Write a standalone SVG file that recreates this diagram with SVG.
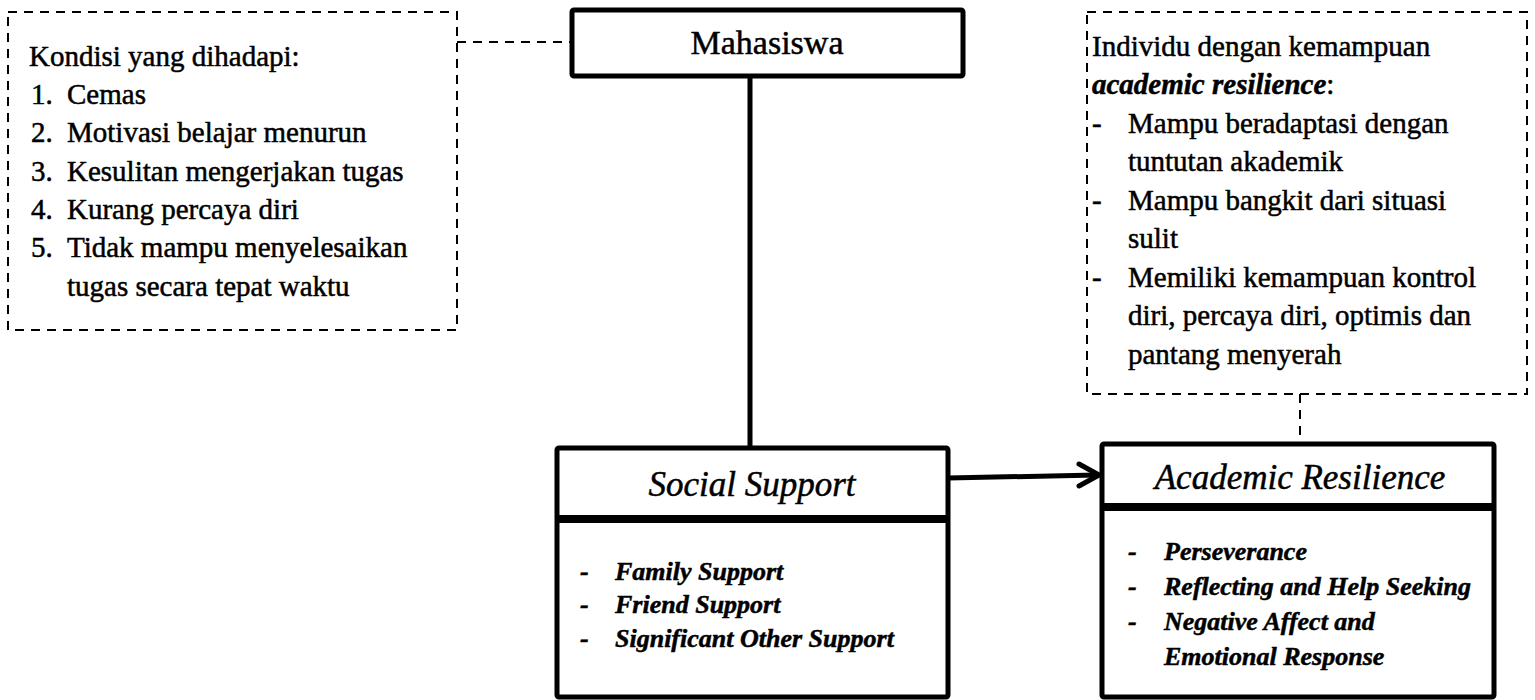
<svg xmlns="http://www.w3.org/2000/svg" width="1535" height="700" viewBox="0 0 1535 700">
<style>
.dash{fill:none;stroke:#000;stroke-width:2;stroke-dasharray:9 7}
.box{fill:#fff;stroke:#000;stroke-width:5;stroke-linejoin:round}
text{stroke:#000;stroke-width:0.5}
.t{font-family:"Liberation Serif","Times New Roman",serif;font-size:29px;fill:#000}
.bi{font-family:"Liberation Serif","Times New Roman",serif;font-size:26px;font-weight:bold;font-style:italic;fill:#000}
.hd{font-family:"Liberation Serif","Times New Roman",serif;font-size:35px;font-style:italic;fill:#000;text-anchor:middle}
</style>
<rect width="1535" height="700" fill="#fff"/>
<g id="connectors">
<line class="dash" x1="457" y1="42" x2="572" y2="42"/>
<line class="dash" x1="1300" y1="394" x2="1300" y2="444"/>
<line x1="750" y1="76" x2="750" y2="448" stroke="#000" stroke-width="5"/>
<line x1="948" y1="478" x2="1097" y2="475" stroke="#000" stroke-width="5"/>
<polyline points="1079,464 1099,475 1079,486" fill="none" stroke="#000" stroke-width="5" stroke-linecap="round" stroke-linejoin="round"/>
</g>
<g id="kondisi">
<rect class="dash" x="8" y="12" width="449" height="318"/>
<text class="t" x="29" y="66">Kondisi yang dihadapi:</text>
<text class="t" x="31" y="104">1.</text><text class="t" x="67" y="104">Cemas</text>
<text class="t" x="31" y="142">2.</text><text class="t" x="67" y="142">Motivasi belajar menurun</text>
<text class="t" x="31" y="181">3.</text><text class="t" x="67" y="181">Kesulitan mengerjakan tugas</text>
<text class="t" x="31" y="219">4.</text><text class="t" x="67" y="219">Kurang percaya diri</text>
<text class="t" x="31" y="257">5.</text><text class="t" x="67" y="257">Tidak mampu menyelesaikan</text>
<text class="t" x="67" y="296">tugas secara tepat waktu</text>
</g>
<g id="mahasiswa">
<rect class="box" x="572" y="10" width="391" height="66" rx="2"/>
<text x="767" y="54" font-family="Liberation Serif, Times New Roman, serif" font-size="34" text-anchor="middle">Mahasiswa</text>
</g>
<g id="individu">
<rect class="dash" x="1087" y="12" width="440" height="382"/>
<text class="t" x="1092" y="56">Individu dengan kemampuan</text>
<text class="t" x="1092" y="94"><tspan font-weight="bold" font-style="italic">academic resilience</tspan>:</text>
<text class="t" x="1092" y="133">-</text><text class="t" x="1128" y="133">Mampu beradaptasi dengan</text>
<text class="t" x="1128" y="171">tuntutan akademik</text>
<text class="t" x="1092" y="210">-</text><text class="t" x="1128" y="210">Mampu bangkit dari situasi</text>
<text class="t" x="1128" y="248">sulit</text>
<text class="t" x="1092" y="287">-</text><text class="t" x="1128" y="287">Memiliki kemampuan kontrol</text>
<text class="t" x="1128" y="325">diri, percaya diri, optimis dan</text>
<text class="t" x="1128" y="364">pantang menyerah</text>
</g>
<g id="social-support">
<rect class="box" x="557" y="448" width="391" height="249" rx="2"/>
<line x1="555" y1="519" x2="950" y2="519" stroke="#000" stroke-width="8"/>
<text class="hd" x="752" y="496">Social Support</text>
<text class="bi" x="580" y="580">-</text><text class="bi" x="615" y="580">Family Support</text>
<text class="bi" x="580" y="613">-</text><text class="bi" x="615" y="613">Friend Support</text>
<text class="bi" x="580" y="647">-</text><text class="bi" x="615" y="647">Significant Other Support</text>
</g>
<g id="academic-resilience">
<rect class="box" x="1102" y="444" width="392" height="253" rx="2"/>
<line x1="1100" y1="507" x2="1496" y2="507" stroke="#000" stroke-width="8"/>
<text class="hd" x="1300" y="489">Academic Resilience</text>
<text class="bi" x="1128" y="560">-</text><text class="bi" x="1164" y="560">Perseverance</text>
<text class="bi" x="1128" y="595">-</text><text class="bi" x="1164" y="595">Reflecting and Help Seeking</text>
<text class="bi" x="1128" y="630">-</text><text class="bi" x="1164" y="630">Negative Affect and</text>
<text class="bi" x="1164" y="665">Emotional Response</text>
</g>
</svg>
